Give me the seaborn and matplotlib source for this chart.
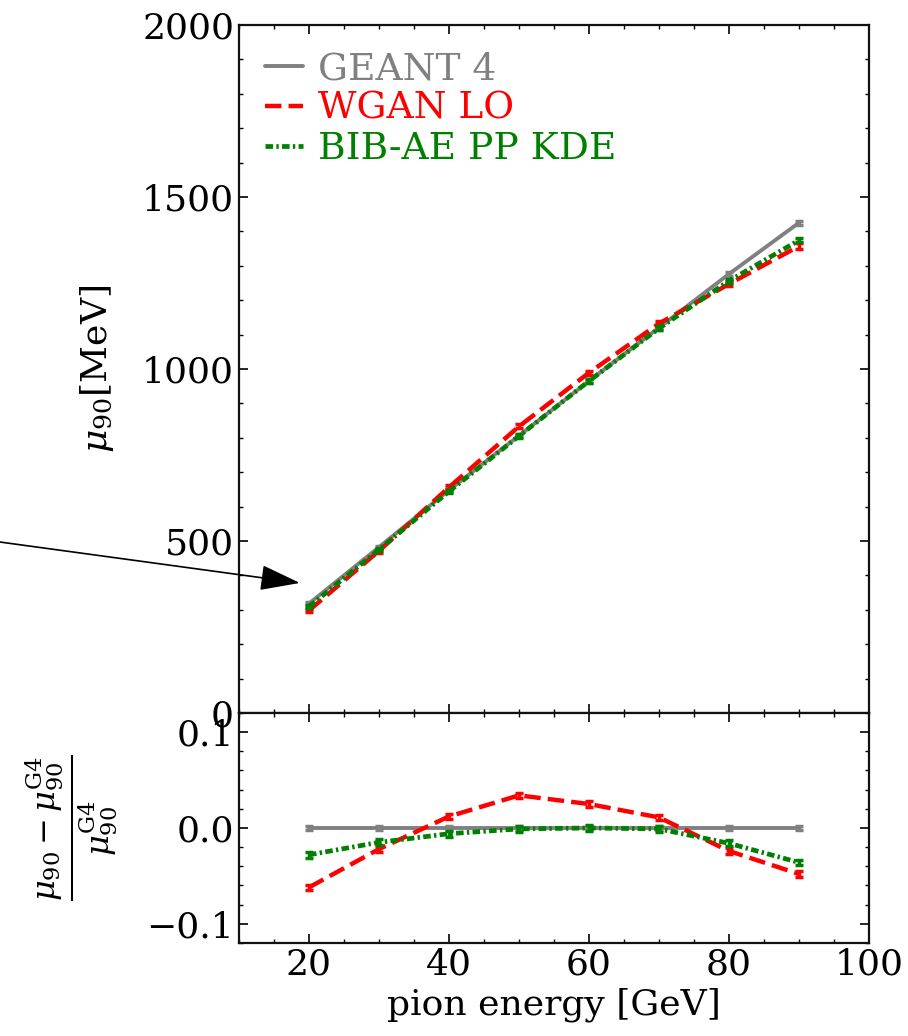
import numpy as np
import pandas as pd
import matplotlib
matplotlib.use("Agg")
import matplotlib.pyplot as plt
import seaborn as sns
from matplotlib.ticker import MultipleLocator

energies = [20, 30, 40, 50, 60, 70, 80, 90]

# mu_90 in MeV
g4_mu = [318, 482, 648, 806, 965, 1120, 1276, 1425]
wgan_mu = [298, 471, 656, 833, 989, 1132, 1247, 1357]
bib_mu = [309, 475, 644, 805, 965, 1118, 1256, 1374]
g4_err = [4, 4, 5, 5, 5, 6, 6, 6]
wgan_err = [5, 5, 6, 6, 6, 7, 7, 8]
bib_err = [4, 4, 5, 5, 5, 6, 6, 6]

# relative difference to Geant4
g4_ratio = [0.0, 0.0, 0.0, 0.0, 0.0, 0.0, 0.0, 0.0]
wgan_ratio = [-0.062, -0.022, 0.012, 0.034, 0.025, 0.011, -0.024, -0.048]
bib_ratio = [-0.028, -0.015, -0.006, -0.001, 0.000, -0.001, -0.016, -0.036]
g4_ratio_err = [0.002, 0.002, 0.002, 0.002, 0.002, 0.002, 0.002, 0.002]
wgan_ratio_err = [0.003, 0.003, 0.003, 0.003, 0.003, 0.003, 0.003, 0.003]
bib_ratio_err = [0.003, 0.003, 0.003, 0.003, 0.003, 0.003, 0.003, 0.003]

labels = ["GEANT 4", "WGAN LO", "BIB-AE PP KDE"]
colors = ["grey", "red", "green"]
styles = ["-", "--", (0, (1.6, 0.7, 0.5, 0.7))]
widths = [2.8, 3.2, 3.4]

sns.set_style("ticks", {"xtick.direction": "in", "ytick.direction": "in"})
plt.rcParams["font.family"] = ["DejaVu Serif"]
plt.rcParams["mathtext.fontset"] = "dejavuserif"
plt.rcParams["font.size"] = 26
plt.rcParams["text.color"] = "black"
plt.rcParams["axes.labelcolor"] = "black"
plt.rcParams["xtick.color"] = "black"
plt.rcParams["ytick.color"] = "black"
plt.rcParams["xtick.top"] = True
plt.rcParams["ytick.right"] = True
plt.rcParams["axes.linewidth"] = 1.6
plt.rcParams["axes.edgecolor"] = "#111111"

fig = plt.figure(figsize=(9.08, 10.36), dpi=100)
ax1 = fig.add_axes([0.2632, 0.3118, 0.6938, 0.6641])
ax2 = fig.add_axes([0.2632, 0.0898, 0.6938, 0.2220], sharex=ax1)

tops = [g4_mu, wgan_mu, bib_mu]
top_errs = [g4_err, wgan_err, bib_err]
bots = [g4_ratio, wgan_ratio, bib_ratio]
bot_errs = [g4_ratio_err, wgan_ratio_err, bib_ratio_err]

for i in range(3):
    df = pd.DataFrame({"E": energies, "mu": tops[i], "r": bots[i]})
    sns.lineplot(data=df, x="E", y="mu", ax=ax1, color=colors[i],
                 linestyle=styles[i], lw=widths[i], label=labels[i], zorder=2 + i)
    ax1.errorbar(energies, tops[i], yerr=top_errs[i], fmt="none",
                 ecolor=colors[i], elinewidth=2.5, capsize=3, capthick=2.5,
                 zorder=2 + i)
    sns.lineplot(data=df, x="E", y="r", ax=ax2, color=colors[i],
                 linestyle=styles[i], lw=widths[i], zorder=2 + i)
    ax2.errorbar(energies, bots[i], yerr=bot_errs[i], fmt="none",
                 ecolor=colors[i], elinewidth=2.5, capsize=3, capthick=2.5,
                 zorder=2 + i)

ax1.set_xlim(10, 100)
ax1.set_ylim(0, 2000)
ax1.yaxis.set_major_locator(MultipleLocator(500))
ax1.yaxis.set_minor_locator(MultipleLocator(100))
ax1.xaxis.set_major_locator(MultipleLocator(20))
ax1.xaxis.set_minor_locator(MultipleLocator(5))
ax1.tick_params(labelbottom=False)
ax1.set_xlabel("")
ax1.set_ylabel(r"$\mu_{90}$[MeV]")
ax1.yaxis.set_label_coords(-0.195, 0.5)

ax2.set_ylim(-0.12, 0.12)
ax2.yaxis.set_major_locator(MultipleLocator(0.1))
ax2.yaxis.set_minor_locator(MultipleLocator(0.02))
ax2.set_xlabel("pion energy [GeV]")
ax2.set_ylabel(r"$\frac{\mu_{90} - \mu_{90}^{\rm G4}}{\mu_{90}^{\rm G4}}$",
               fontsize=33)
ax2.yaxis.set_label_coords(-0.19, 0.5)

for ax in (ax1, ax2):
    ax.tick_params(which="major", direction="in", length=6.5, width=1.2,
                   top=True, right=True)
    ax.tick_params(which="minor", direction="in", length=3, width=1.0,
                   top=True, right=True)

leg = ax1.legend(loc="upper left", frameon=False, handlelength=1.0,
                 handletextpad=0.4, labelspacing=0.1, borderaxespad=0.3,
                 labelcolor="linecolor", fontsize=27)

ax1.annotate("", xy=(18.7, 378), xycoords="data",
             xytext=(-0.01, 0.478), textcoords="figure fraction",
             arrowprops=dict(arrowstyle="-|>,head_length=1.25,head_width=0.4",
                             mutation_scale=20, lw=1.2, color="black",
                             shrinkA=0, shrinkB=0),
             annotation_clip=False)

fig.savefig("out.png", dpi=100)
